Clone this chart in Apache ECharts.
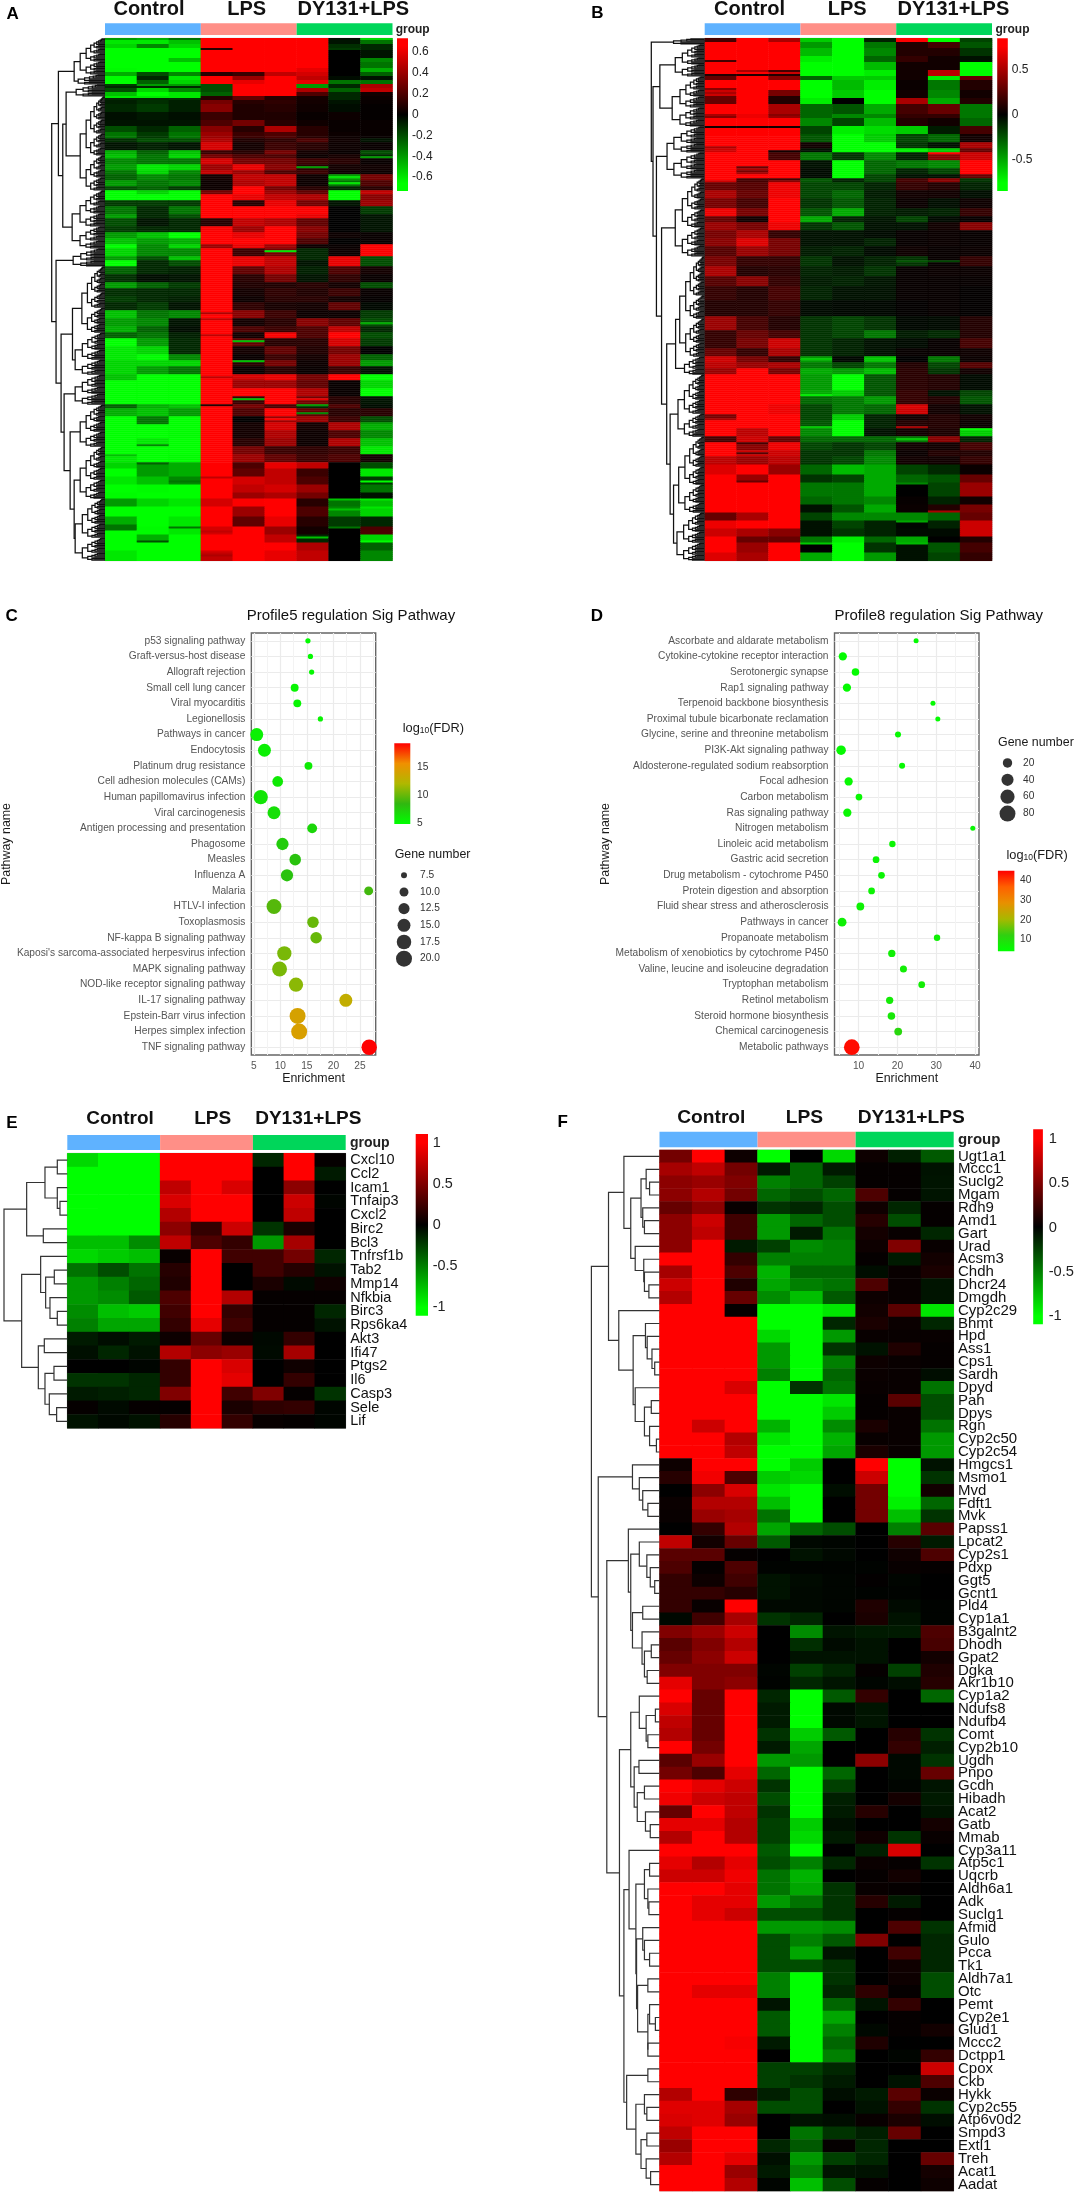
<!DOCTYPE html>
<html><head><meta charset="utf-8">
<script src="https://cdn.jsdelivr.net/npm/echarts@6/dist/echarts.min.js"></script>
<style>html,body{margin:0;padding:0;background:#fff}#c{width:1077px;height:2193px}</style></head>
<body><div id="c"></div>
<script>
const FONT='"Liberation Sans",Arial,sans-serif';
const groups=['Control','LPS','DY131+LPS'];
const groupColors=['#5fb2ff','#ff8f87','#00d65a'];
const samples=['C1','C2','C3','L1','L2','L3','D1','D2','D3'];

// Panel A: [rows in band, then 9 sample values]
const panelABands=[
[1,-.4,-.45,-.3,.73,.73,.73,.7,-.03,-.55],[2,-.6,-.6,-.5,.73,.73,.73,.7,-.05,-.3],[2,-.55,-.35,-.55,.73,.73,.73,.7,-.12,-.1],
[1,-.73,-.73,-.73,.1,.73,.73,.7,-.15,-.1],[4,-.73,-.73,-.73,.73,.73,.73,.7,0,-.05],[2,-.73,-.73,-.5,.73,.73,.73,.7,0,-.35],
[3,-.73,-.73,-.73,.73,.73,.73,.7,0,-.3],[2,-.65,-.73,-.73,.73,.73,.73,.6,0,-.45],[2,-.45,-.2,-.35,.1,.15,.5,.55,0,-.25],
[2,-.7,-.1,-.6,.72,.4,.7,.5,-.03,-.05],[2,-.7,-.25,-.55,.72,.6,.72,.6,-.3,-.3],
[2,-.15,-.4,-.4,-.2,.73,.73,-.4,-.1,.45],[2,-.2,-.55,-.35,-.2,.73,.73,.45,-.25,.5],[2,-.5,-.7,-.6,-.25,.73,.73,.2,-.1,.05],
[2,-.1,-.1,-.12,.1,.25,.1,.05,-.1,.03],[2,-.08,-.12,-.08,.3,.1,.12,.05,-.05,.02],[4,-.1,-.15,-.08,.35,.08,.1,.04,-.03,.01],
[4,-.04,-.06,-.04,.15,.08,.08,.02,.03,.01],[3,-.05,-.05,-.05,.2,.3,.1,.04,.02,.02],[3,-.2,-.1,-.25,.35,.1,.45,.1,.02,.02],
[3,-.3,-.15,-.3,.4,.15,.2,.1,.03,.02],[2,-.12,-.2,-.2,.45,.08,.12,.2,.04,-.05],[4,-.05,-.08,-.05,.55,.05,.15,.1,.03,.02],
[2,-.45,-.25,-.5,.15,.1,.3,.05,.02,-.2],[2,-.5,-.3,-.55,.3,.2,.2,.03,.06,-.1],[3,-.35,-.3,-.3,.55,.3,.3,.15,.1,.02],
[3,-.4,-.6,-.55,.4,.6,.35,.1,.05,.04],[2,-.3,-.55,-.35,.5,.4,.2,.15,.03,.03],[3,-.25,-.35,-.3,.05,.5,.5,.03,-.4,.3],
[3,-.4,-.3,-.35,.03,.45,.5,.03,-.3,.2],[2,-.2,-.25,-.15,.03,.7,.3,.1,-.1,.1],
[2,-.7,-.55,-.65,.3,.73,.4,.25,-.7,.5],[3,-.73,-.73,-.73,.7,.6,.5,.45,-.7,.35],[3,-.15,-.15,-.15,.73,.1,.6,.3,-.05,.4],
[4,-.3,-.1,-.3,.73,.7,.7,.65,0,-.15],[2,-.4,-.1,-.2,.73,.73,.73,.6,0,-.05],[4,-.2,-.05,-.1,.1,.5,.45,.25,0,-.05],
[3,-.15,-.1,-.1,.65,.4,.73,.35,0,-.05],[3,-.4,-.5,-.7,.73,.6,.73,.3,.03,.02],[3,-.5,-.4,-.45,.7,.73,.73,.2,0,.02],
[2,-.65,-.35,-.55,.4,.6,.4,.03,.02,.65],[4,-.55,-.35,-.35,.73,.15,.3,-.1,.03,.65],[2,-.4,-.2,-.5,.73,.6,.5,-.1,.6,-.2],
[3,-.7,-.1,-.2,.73,.6,.5,-.05,.6,-.2],[4,-.25,-.1,-.08,.73,.25,.45,-.08,.2,.05],[4,-.12,-.03,-.05,.73,.1,.3,-.05,.12,.02],
[3,-.4,-.25,-.15,.73,.08,.08,.1,.05,-.2],[4,-.12,-.1,-.1,.73,.05,.12,.08,.15,.02],[3,-.15,-.1,-.08,.73,.03,.1,.1,.05,.01],
[4,-.1,-.15,-.05,.73,.12,.06,.05,.25,-.02],[4,-.5,-.3,-.35,.73,.35,.15,.03,.03,-.15],[4,-.4,-.35,-.05,.73,.05,.1,.35,.25,-.2],
[3,-.45,-.25,-.03,.73,.2,.15,.2,.5,-.1],[3,-.25,-.3,-.08,.73,.05,.6,.2,.7,-.2],[4,-.73,-.4,-.1,.73,.25,.1,.1,.55,-.15],
[4,-.6,-.55,-.1,.73,.05,.25,.08,.3,0],[3,-.6,-.65,-.35,.73,.02,.15,.05,.4,-.25],[3,-.55,-.55,-.55,.73,.1,.3,.03,.4,-.4],
[4,-.55,-.4,-.3,.73,.02,.1,.02,.15,-.05],[3,-.5,-.73,-.73,.65,.55,.6,.3,.7,-.73],[4,-.73,-.73,-.73,.73,.4,.4,.25,.02,-.55],
[4,-.73,-.73,-.73,.73,.7,.73,.45,.02,-.7],[4,-.73,-.73,-.7,.73,.15,.73,.3,.1,-.05],[2,-.25,-.45,-.5,.73,.3,.2,-.1,.2,-.03],
[4,-.45,-.5,-.4,.73,.2,.65,.25,.1,.1],[3,-.73,-.3,-.7,.73,0,.4,.4,.15,-.2],[4,-.73,-.7,-.7,.73,.05,.55,.05,.45,-.45],
[4,-.73,-.73,-.65,.73,.05,.45,.03,.2,-.35],[4,-.73,-.6,-.73,.73,.1,.4,.03,.45,-.5],[4,-.73,-.73,-.73,.73,.3,.15,.12,.15,-.6],
[4,-.6,-.7,-.65,.73,.4,.25,.15,.2,.05],[3,-.55,-.25,-.45,.73,.2,.6,.5,0,-.2],[4,-.7,-.6,-.45,.73,.25,.5,.15,0,-.6],
[4,-.6,-.5,-.35,.7,.55,.5,.2,0,-.15],[4,-.7,-.65,-.73,.73,.5,.55,.4,0,-.3],[3,-.65,-.7,-.73,.73,.4,.45,.3,0,-.05],
[4,-.4,-.55,-.6,.55,.65,.73,.1,-.3,-.5],[5,-.7,-.73,-.73,.73,.4,.73,.2,-.35,-.55],[5,-.45,-.73,-.6,.73,.25,.6,.1,-.15,-.1],
[4,-.7,-.65,-.6,.55,.73,.4,.05,0,.2],[4,-.73,-.45,-.73,.73,.73,.5,-.1,0,-.55],[4,-.7,-.73,-.73,.7,.73,.73,.45,0,-.25],
[5,-.6,-.73,-.73,.55,.73,.6,.5,0,-.35]];
// thin streaks read over the bands: [row, sample index, value]
const panelAStreaks=[[24,0,-.1],[24,1,-.1],[24,2,-.1],[29,0,-.6],[29,1,-.6],[29,2,-.6],[106,5,-.6],[78,3,.7],[69,7,-.6],[72,7,-.6],[59,8,-.4],[64,6,-.4],
[137,3,.45],[140,3,.5],[148,3,.5],[142,8,-.45],[148,5,.75],[148,7,.7],[151,4,-.5],[161,4,-.5],[169,3,.5],[170,4,.5],[170,5,.6],[180,4,-.5],[180,6,.6],[183,3,.1],[183,6,-.4],
[187,6,-.35],[190,5,.7],[192,1,-.3],[192,8,-.4],[203,1,-.35],[208,0,-.5],[213,1,-.4],[214,1,-.4],[215,1,-.4],[216,1,-.4],[217,1,-.4],[218,1,-.4],[219,3,.5],[221,8,-.7],[221,2,-.3],
[230,8,-.6],[230,7,-.5],[235,7,-.5],[234,8,-.6],[243,0,-.3],[244,0,-.3],[245,0,-.3],[244,2,-.3],[244,7,-.3],[249,6,-.5],[251,1,-.2],[251,8,-.73],[246,3,.5],[257,3,.5],[258,3,.45],[259,3,.5],[260,3,.5]];

// Panel B
const panelBBands=[
[2,.2,.8,.5,-.6,-.8,-.1,.75,-.9,-.2],[3,.8,.8,.8,-.45,-.85,-.35,.1,.2,-.25],[4,.8,.8,.8,-.55,-.85,-.4,.1,.1,-.15],
[3,.8,.8,.8,-.7,-.85,-.3,.15,.05,-.05],[4,.8,.8,.8,-.85,-.85,-.55,.05,.05,-.8],[3,.8,.75,.6,-.85,-.85,-.7,.05,.55,-.8],
[2,.3,.8,.4,-.3,-.6,-.6,.05,-.7,.3],[5,.75,.8,.8,-.8,-.55,-.7,.03,-.35,.1],[4,.6,.8,.35,-.75,-.6,-.8,.05,-.4,.05],
[3,.3,.8,.1,-.7,0,-.85,.5,-.5,.1],[5,.8,.8,.5,-.3,-.25,-.5,.2,.3,-.35],[2,.4,.7,.45,-.3,-.4,-.4,.15,.15,-.35],
[4,.8,.8,.8,-.4,-.2,-.55,.1,.05,-.3],[4,.8,.8,.75,-.2,-.7,-.65,-.6,-.08,.2],[4,.8,.8,.75,-.25,-.75,-.6,-.2,-.3,.05],
[3,.8,.8,.8,.05,-.85,-.75,-.15,-.05,.5],[2,.6,.8,.75,-.05,-.8,-.8,-.7,-.6,.3],[4,.8,.8,.2,-.35,-.15,-.4,-.1,.4,.6],
[4,.8,.8,.8,-.05,-.8,-.3,-.35,-.4,.8],[3,.8,.5,.8,-.03,-.85,-.3,-.1,-.2,.75],[2,.8,.8,.8,-.03,-.85,-.2,-.05,-.05,.3],
[2,.6,.2,.4,-.25,-.1,-.2,.2,.4,-.15],[4,.3,.25,.7,-.2,-.2,-.1,.15,.1,-.1],[4,.5,.3,.7,-.2,-.3,-.08,.05,.05,-.04],
[5,.35,.2,.75,-.15,-.25,-.1,.03,-.04,.04],[4,.7,.35,.8,-.25,-.5,-.1,-.08,-.1,.15],[3,.3,.05,.75,-.5,-.1,-.06,-.2,-.03,.02],
[4,.45,.35,.7,-.15,-.25,-.05,-.05,.05,.4],[4,.35,.5,.15,-.05,-.05,-.03,.02,.03,.02],[4,.4,.65,.35,-.05,-.05,-.1,.02,.03,.02],
[5,.25,.45,.35,-.08,-.1,-.03,.04,.02,.03],[5,.35,.15,.15,-.15,-.05,-.1,-.15,.02,.15],[5,.5,.1,.12,-.1,-.08,-.15,.02,.03,.03],
[5,.25,.4,.15,-.08,-.1,-.06,.02,.02,.02],[7,.15,.1,.2,-.1,-.05,-.05,.02,.02,.01],[8,.1,.1,.15,-.03,-.02,-.02,.01,.02,.01],
[7,.45,.2,.1,-.15,-.2,-.15,-.02,-.03,.1],[4,.15,.3,.2,-.15,-.2,-.35,-.08,-.12,.1],[5,.15,.35,.6,-.15,-.1,-.05,-.03,.02,.2],
[4,.3,.15,.5,-.15,-.1,-.05,.02,.02,.04],[3,.6,.35,.15,-.45,-.02,-.55,0,-.35,.03],[3,.55,.45,.5,-.35,-.2,-.35,.1,-.2,.25],
[3,.45,.8,.35,-.5,-.45,-.55,.12,-.15,.05],[8,.8,.8,.8,-.45,-.85,-.25,.12,.1,-.03],[3,.8,.8,.75,-.5,-.6,-.25,.15,-.05,-.2],
[4,.8,.8,.75,-.3,-.35,-.45,.15,.1,-.25],[5,.8,.75,.7,-.2,-.35,-.3,.6,.05,-.05],[3,.5,.8,.8,-.2,-.6,-.1,.05,.1,.05],
[4,.8,.8,.8,-.25,-.85,-.1,.1,.1,.03],[4,.8,.55,.75,-.4,-.9,-.05,.05,.08,-.6],[3,.2,.6,.3,-.3,-.3,-.3,-.35,.4,-.1],
[4,.8,.4,.7,-.2,-.15,-.2,.05,.05,.2],[3,.75,.6,.6,-.15,-.15,-.35,.03,.1,.1],[4,.55,.45,.55,-.15,-.2,-.4,.05,.05,.15],
[5,.65,.75,.45,-.3,-.55,-.5,-.2,-.12,.03],[4,.8,.45,.75,-.15,-.2,-.5,-.3,-.25,.3],[7,.8,.8,.8,-.35,-.35,-.5,0,-.2,.45],
[4,.8,.8,.8,-.3,-.35,-.4,.02,-.1,.05],[4,.75,.75,.75,-.05,-.25,-.5,.03,.1,.35],[4,.3,.5,.75,-.2,-.4,-.4,-.4,-.3,.3],
[4,.7,.75,.8,-.05,-.2,-.1,-.02,-.1,.6],[4,.6,.5,.4,-.05,-.15,-.1,-.03,-.03,.6],[3,.75,.3,.3,-.35,-.7,-.3,-.5,0,.1],
[5,.8,.45,.8,0,-.9,-.15,-.05,-.25,.2],[4,.65,.5,.8,-.5,-.85,-.45,-.05,-.2,.15]];
const panelBStreaks=[[18,0,.1],[18,1,.1],[18,2,.1],[11,0,.2],[16,2,.2],[16,1,.5],[25,0,.4],[27,0,.5],[29,0,.3],[29,2,.1],[30,4,0],[38,0,.5],[38,2,.4],[44,0,.05],[44,1,.05],[44,2,.05],
[54,0,.5],[56,2,.05],[57,7,.8],[64,1,.3],[66,1,.35],[70,0,.8],[70,1,.2],[70,2,.2],[111,6,-.25],[111,7,-.2],[160,3,-.6],[160,5,-.6],[178,3,-.7],[184,6,.65],[188,0,.35],[189,0,.35],
[194,3,-.6],[194,6,.5],[195,8,-.8],[199,0,.2],[202,1,.2],[200,6,-.6],[207,1,.25],[221,1,.3],[222,6,-.4],[241,6,-.5],[236,7,.5],[252,3,-.6],[252,6,-.55]];

// Panel E
const panelEGenes=['Cxcl10','Ccl2','Icam1','Tnfaip3','Cxcl2','Birc2','Bcl3','Tnfrsf1b','Tab2','Mmp14','Nfkbia','Birc3','Rps6ka4','Akt3','Ifi47','Ptgs2','Il6','Casp3','Sele','Lif'];
const panelEValues=[
[-.85,-1,-1,1,1,1,-.15,1,.02],[-1,-1,-1,1,1,1,0,1,-.1],[-1,-1,-1,.75,1,.85,0,.55,0],[-1,-1,-1,.85,1,1,0,.8,-.02],
[-1,-1,-1,.7,1,1,0,.75,0],[-1,-1,-1,.55,.2,.8,-.2,.1,0],[-.75,-.75,-.55,.75,.3,.2,-.6,.65,0],[-.85,-.8,-.75,.03,1,.25,.25,.45,-.15],
[-.45,-.3,-.45,.15,1,0,.25,.15,-.07],[-.6,-.5,-.4,.12,1,0,.1,-.04,.06],[-.6,-.55,-.35,.3,1,.7,.02,.02,.02],[-.55,-.75,-.8,.25,1,.2,.02,.02,-.15],
[-.5,-.65,-.65,.2,.9,.25,.02,.02,-.07],[-.1,-.05,-.1,.05,.4,.05,-.03,.2,0],[-.06,-.15,-.07,.7,.55,.6,-.04,.65,0],[0,0,-.02,.2,1,.85,0,.06,0],
[-.2,-.2,-.15,.2,1,.9,0,.2,0],[-.1,-.12,-.15,.5,1,.25,.5,.02,-.2],[.02,-.04,.02,.02,1,.1,.18,.2,-.02],[-.07,-.03,-.07,.15,1,.2,.03,.02,-.02]];

// Panel F
const panelFGenes=['Ugt1a1','Mccc1','Suclg2','Mgam','Rdh9','Amd1','Gart','Urad','Acsm3','Chdh','Dhcr24','Dmgdh','Cyp2c29','Bhmt','Hpd','Ass1','Cps1','Sardh','Dpyd','Pah','Dpys','Rgn','Cyp2c50','Cyp2c54','Hmgcs1','Msmo1','Mvd','Fdft1','Mvk','Papss1','Lpcat2','Cyp2s1','Pdxp','Ggt5','Gcnt1','Pld4','Cyp1a1','B3galnt2','Dhodh','Gpat2','Dgka','Akr1b10','Cyp1a2','Ndufs8','Ndufb4','Comt','Cyp2b10','Ugdh','Pnpo','Gcdh','Hibadh','Acat2','Gatb','Mmab','Cyp3a11','Atp5c1','Uqcrb','Aldh6a1','Adk','Suclg1','Afmid','Gulo','Pcca','Tk1','Aldh7a1','Otc','Pemt','Cyp2e1','Glud1','Mccc2','Dctpp1','Cpox','Ckb','Hykk','Cyp2c55','Atp6v0d2','Smpd3','Extl1','Treh','Acat1','Aadat'];
const panelFValues=[
[.45,1,.05,-1,0,-.85,.05,-.12,-.35],[.65,.75,.45,-.1,-.4,-.1,.02,.02,-.07],[.55,.6,.5,-.5,-.4,-.25,.02,.02,-.08],[.55,.7,.45,-.4,-.3,-.4,.3,.02,-.08],
[.4,.55,.03,-.2,-.15,-.3,.06,-.15,.02],[.55,.8,.25,-.6,-.4,-.3,.15,-.3,.02],[.55,.75,.25,-.6,-.1,-.45,.08,.03,-.15],[.55,1,-.1,-.25,-.55,-.5,.05,.5,.03],
[1,1,.2,-.5,-.5,-.5,.02,-.1,.07],[.65,1,.3,-.7,-.4,-.4,-.05,.03,.1],[.8,1,.12,-.65,-.5,-.45,.3,.03,-.08],[.7,1,.4,-.55,-.75,-.35,.05,.03,-.08],
[1,1,.02,-1,-1,-.9,.07,.35,-.9],[1,1,1,-1,-1,-.15,.1,.04,-.15],[1,1,1,-.85,-1,-.6,.03,.03,.03],[1,1,1,-.6,-1,-.2,-.07,.12,.02],
[1,1,1,-.6,-1,-.5,.05,.03,.02],[1,1,1,-.5,-1,-.4,.04,.03,-.05],[1,1,.85,-1,-.2,-.45,.03,.03,-.45],[1,1,1,-1,-1,-.9,.02,.35,-.3],
[1,1,1,-1,-1,-.8,.02,.03,-.3],[1,.8,1,-.7,-1,-.55,.1,.03,-.45],[1,1,.7,-.9,-1,-.7,.03,.03,-.6],[1,1,.75,-1,-1,-.65,.1,.03,-.6],
[.05,1,1,-1,-.8,0,1,-1,-.07],[.15,.95,.3,-.8,-.85,0,.8,-1,-.2],[0,.55,.85,-.9,-1,-.05,.45,-1,.07],[.04,.7,.7,-.75,-1,0,.45,-.95,-.4],
[.03,.6,.65,-.45,-1,0,.45,-.75,-.2],[0,.2,.7,-.65,-.4,-.3,0,-.5,.35],[.75,.07,.4,-.35,-.03,-.02,0,.15,-.1],[.35,.35,.02,0,-.07,-.03,0,.06,.3],
[.3,.02,.3,-.01,-.01,-.01,-.01,.03,.02],[.2,.05,.25,-.07,-.04,-.02,.01,-.02,0],[.2,.2,.15,-.07,-.03,-.02,-.01,-.01,0],[.2,.03,1,-.03,-.03,-.02,.12,-.04,-.01],
[-.03,.25,.65,-.2,-.15,0,.1,-.07,-.01],[.5,.6,.8,0,-.55,-.08,-.1,-.1,.3],[.35,.5,.7,0,-.18,-.04,-.07,0,.28],[.4,.55,.8,0,-.07,-.07,-.07,0,.07],
[.5,.5,.5,-.02,-.25,-.15,.02,-.25,.12],[.9,.5,.55,-.01,-.15,-.08,-.02,-.05,.15],[1,.4,1,-.15,-1,-.35,.2,0,-.4],[.85,.4,1,-.1,-1,-.03,-.08,0,0],
[.75,.4,1,-.1,-1,-.03,-.08,0,0],[.7,.4,1,-.2,-.8,-.35,0,.15,-.2],[1,.45,1,-.1,-.65,0,0,.2,-.12],[.35,.6,1,-.6,-.6,0,.55,-.03,-.2],
[.45,.3,.9,-.4,-1,-.4,0,-.03,.4],[1,.9,.8,-.2,-1,-.25,0,-.02,-.08],[.95,.8,.75,-.3,-1,-.12,0,.08,-.1],[.4,1,.75,-.2,-1,-.1,.15,0,-.08],
[.9,.9,.7,-.25,-.8,-.06,0,0,.08],[.7,1,.7,-.25,-.85,-.1,.06,-.2,.03],[1,1,1,-.35,-1,0,-.12,.85,0],[.9,.7,.9,-.3,-.5,-.15,.04,.02,-.2],
[.8,.8,.95,-.45,-.7,0,.02,.07,0],[1,1,.9,-.45,-.65,-.2,.03,.02,0],[1,.9,.9,-.6,-.45,-.2,.15,-.1,0],[1,.9,.8,-.3,-.3,-.2,0,.02,0],
[1,1,1,-.6,-.6,-.55,0,.3,-.2],[1,1,1,-.3,-.5,-.35,.5,0,-.15],[1,1,1,-.3,-.65,-.08,0,.25,-.15],[1,1,1,-.3,-.3,-.2,0,.06,-.15],
[1,1,1,-.5,-1,-.2,0,.05,-.3],[1,.9,.9,-.5,-1,-.15,.18,.02,-.3],[1,1,1,-.08,-1,-.4,-.08,.2,0],[1,1,1,-.35,-1,-.65,0,.02,0],
[1,1,1,-.35,-1,-.5,-.03,.02,.07],[1,1,.97,-.1,-1,-.4,.12,0,0],[1,1,1,0,-1,-.5,0,-.02,.2],[1,1,1,-.25,-.25,-.15,0,0,.8],
[1,1,1,-.25,-.2,-.1,0,-.07,.3],[.7,1,.18,-.12,-.3,-.05,-.1,.35,.04],[.88,.88,.65,-.3,-.3,0,-.07,.2,-.2],[.85,.88,.6,0,-.07,-.05,.03,.1,-.05],
[.75,1,1,0,-.45,-.2,-.12,.4,0],[.6,1,1,-.15,-.35,.02,-.15,0,0],[.7,1,.9,-.06,-.6,-.25,-.15,0,.4],[1,1,.6,-.1,-.5,-.08,-.07,0,.08],[1,1,.7,-.02,-.75,-.3,.02,0,.05]];

// Dendrograms: [height, child, child]; 0 = one leaf; [height, n] = tight cluster of n heatmap rows
const treeA=[159,[139,[92,[74,18],[80,5]],[126,[116,[86,6],[74,47]],[98,29]]],[146,[95,9],[131,[97,[69,33],[89,21]],[122,[89,15],[104,[74,21],[92,[74,26],[89,31]]]]]]];
const treeB=[156,[91,3],[151,[131,[86,16],[95,25]],[141,[110,[90,13],[90,13]],[126,[86,39],[111,[85,[73,50],[59,9]],[101,[78,31],[91,[76,38],[81,24]]]]]]]];
const treeE=[190,[122,[67,[30,0,0],[30,0,[22,0,0]]],[72,0,0]],[137,[80,0,[65,[39,0,0],[52,0,[30,0,0]]]],[87,[69,0,0],[67,[40,0,0],[54,0,[32,0,0]]]]]];
const treeF=[199,
 [149,[104,0,[84,[54,[39,0,[29,0,0]],[49,0,[44,0,0]]],[71,0,[46,0,[44,0,[31,0,0]]]]]],
      [119,0,[77,[41,0,[36,0,[22,0,[14,0,0]]]],[71,0,[44,[24,0,0],[29,0,[9,0,0]]]]]]],
 [179,[79,0,[59,0,[49,0,[34,0,0]]]],
  [154,[91,0,[84,[59,0,[37,0,[27,0,[14,0,0]]]],[79,[49,0,0],[51,0,[44,[24,0,0],[36,0,0]]]]]],
   [117,[84,[59,0,[39,[12,0,0],[34,0,0]]],[74,[60,0,0],[65,[44,0,0],[41,0,[27,0,0]]]]],
    [104,[89,0,[69,[44,[29,0,0],[34,0,[31,0,0]]],[67,[49,0,[44,0,[29,0,0]]],[64,[34,0,0],[34,[29,0,[12,0,0]],[34,0,0]]]]]],
         [96,[34,0,0],[69,[44,0,[37,0,0]],[54,[37,0,0],[39,0,[26,0,0]]]]]]]]]];

// Panel C
const pathwaysC=['p53 signaling pathway','Graft-versus-host disease','Allograft rejection','Small cell lung cancer','Viral myocarditis','Legionellosis','Pathways in cancer','Endocytosis','Platinum drug resistance','Cell adhesion molecules (CAMs)','Human papillomavirus infection','Viral carcinogenesis','Antigen processing and presentation','Phagosome','Measles','Influenza A','Malaria','HTLV-I infection','Toxoplasmosis','NF-kappa B signaling pathway',"Kaposi's sarcoma-associated herpesvirus infection",'MAPK signaling pathway','NOD-like receptor signaling pathway','IL-17 signaling pathway','Epstein-Barr virus infection','Herpes simplex infection','TNF signaling pathway'];
const enrichC=[15.2,15.67,15.9,12.7,13.2,17.55,5.55,7,15.3,9.5,6.3,8.8,16,10.4,12.8,11.25,26.65,8.8,16.15,16.75,10.75,9.85,12.95,22.35,13.25,13.55,26.75];
const genesC=[7,7,7,9,9,7,15,15,9,12,17,15,11,14,13,14,10,18,13,13,17,18,17,15,20,20,19];
const fdrC=[5.2,5.3,5.4,5.5,5.5,5.6,5.7,5.8,6,6.1,6.3,6.6,7,7.5,8,8,9,9.5,10,10,10.5,10.5,11,13,14,14.2,19];
const geneTicksC=[7.5,10,12.5,15,17.5,20];
const fdrTicksC=[5,10,15];

// Panel D
const pathwaysD=['Ascorbate and aldarate metabolism','Cytokine-cytokine receptor interaction','Serotonergic synapse','Rap1 signaling pathway','Terpenoid backbone biosynthesis','Proximal tubule bicarbonate reclamation','Glycine, serine and threonine metabolism','PI3K-Akt signaling pathway','Aldosterone-regulated sodium reabsorption','Focal adhesion','Carbon metabolism','Ras signaling pathway','Nitrogen metabolism','Linoleic acid metabolism','Gastric acid secretion','Drug metabolism - cytochrome P450','Protein digestion and absorption','Fluid shear stress and atherosclerosis','Pathways in cancer','Propanoate metabolism','Metabolism of xenobiotics by cytochrome P450','Valine, leucine and isoleucine degradation','Tryptophan metabolism','Retinol metabolism','Steroid hormone biosynthesis','Chemical carcinogenesis','Metabolic pathways'];
const enrichD=[24.8,5.94,9.2,7,29.15,30.4,20.15,5.5,21.2,7.44,10.1,7.1,39.4,18.7,14.5,15.9,13.35,10.45,5.75,30.2,18.55,21.55,26.25,18,18.45,20.2,8.25];
const genesD=[4,14,11,14,4,4,6,21,6,14,8,14,4,7,8,8,8,12,17,7,10,9,8,10,11,12,77];
const fdrD=[4.5,4.6,4.7,4.8,4.8,4.9,5,5,5.2,5.3,5.4,5.5,5.6,5.7,5.8,5.9,6,6.2,6.4,6.6,6.8,7,7.2,7.5,8,11,44];
const geneTicksD=[20,40,60,80];
const fdrTicksD=[10,20,30,40];

const rampC=['#00ff00','#30b810','#b0b800','#f09000','#ff0000'];
const rampD=['#00ff00','#30d010','#a8b800','#e89000','#ff6000','#ff0000'];

function expandBands(bands,streaks){
  const rows=[];bands.forEach(b=>{for(let i=0;i<b[0];i++)rows.push(b.slice(1));});
  (streaks||[]).forEach(s=>{if(rows[s[0]])rows[s[0]][s[1]]=s[2];});
  return rows;
}

const grid=[],xAxis=[],yAxis=[],series=[],visualMap=[],graphic=[],title=[];
function addGrid(l,t,w,h,extra){grid.push(Object.assign({left:l,top:t,width:w,height:h,containLabel:false,show:false},extra||{}));return grid.length-1;}
function hiddenAxis(gi,o){return Object.assign({gridIndex:gi,show:false},o);}
function text(s,x,y,o){graphic.push({type:'text',silent:true,style:Object.assign({x,y,text:s,fontFamily:FONT,fill:'#111',textVerticalAlign:'middle',verticalAlign:'middle'},o||{})});}

function barRect(gi,lo,hi,stops){
  series.push({type:'custom',silent:true,xAxisIndex:xAxis.length-1,yAxisIndex:yAxis.length-1,clip:false,data:[[0,lo,1,hi]],
    renderItem(p,api){const a=api.coord([api.value(0),api.value(1)]),b=api.coord([api.value(2),api.value(3)]);
      return {type:'rect',shape:{x:a[0],y:b[1],width:b[0]-a[0],height:a[1]-b[1]},style:{fill:new echarts.graphic.LinearGradient(0,1,0,0,stops)}};}});
}
function colorBar(r,lo,hi,ticks,stops,font,color,inner){
  const gi=addGrid(r.x0,r.y0,r.x1-r.x0,r.y1-r.y0);
  xAxis.push(hiddenAxis(gi,{type:'value',min:0,max:1}));
  yAxis.push({gridIndex:gi,type:'value',position:'right',min:lo,max:hi,splitLine:{show:false},axisLine:{show:false},
    axisTick:{show:!!inner,inside:true,length:3,lineStyle:{color:'#fff'},customValues:ticks},
    axisLabel:{customValues:ticks,margin:r.margin,fontSize:font,color:color,fontFamily:FONT}});
  barRect(gi,lo,hi,stops);
}
function flattenTree(tree){
  const segs=[];let next=0;
  function cluster(d,lo,hi){ // tight fan of leaves spaced half a row, filling rows lo..hi
    if(hi-lo<=.5)return {y:(lo+hi)/2,d:0};
    const n=Math.round((hi-lo)*2),a=n>2?Math.ceil(n*.62)/2:.5;
    const A=cluster(d*.76,lo,lo+a),B=cluster(d*.76,lo+a,hi);
    segs.push([d,A.y,A.d,B.y,B.d]);return {y:(A.y+B.y)/2,d};
  }
  function walk(n){
    if(n===0){next++;return {y:next-.5,d:0};}
    if(n.length===2){const lo=next;next+=n[1];return cluster(n[0],lo,next);}
    const A=walk(n[1]),B=walk(n[2]);segs.push([n[0],A.y,A.d,B.y,B.d]);return {y:(A.y+B.y)/2,d:n[0]};
  }
  walk(tree);return {segs,rows:next};
}
function heatPanel(c){
  const w=c.x1-c.x0,h=c.y1-c.y0,nRows=c.rows.length;
  // annotation bar
  let gi=addGrid(c.x0,c.annY0,w,c.annY1-c.annY0);
  xAxis.push(hiddenAxis(gi,{type:'category',data:groups}));yAxis.push(hiddenAxis(gi,{type:'value',min:0,max:1}));
  series.push({type:'bar',silent:true,xAxisIndex:xAxis.length-1,yAxisIndex:yAxis.length-1,barWidth:'100%',
    data:groups.map((g,i)=>({value:1,itemStyle:{color:groupColors[i]}}))});
  // heatmap
  gi=addGrid(c.x0,c.y0,w,h,{show:true,borderColor:'#c4c4c4',borderWidth:1,backgroundColor:'transparent'});
  xAxis.push(hiddenAxis(gi,{type:'category',data:samples}));
  const yCats=c.names||c.rows.map((r,i)=>String(i));
  yAxis.push(c.names?{gridIndex:gi,type:'category',inverse:true,position:'right',data:yCats,axisLine:{show:false},axisTick:{show:false},splitLine:{show:false},
      axisLabel:{interval:0,margin:c.nameMargin,fontSize:c.nameFont,color:'#111',fontFamily:FONT}}
    :hiddenAxis(gi,{type:'category',inverse:true,data:yCats}));
  const data=[];c.rows.forEach((r,i)=>r.forEach((v,j)=>data.push([j,i,v])));
  visualMap.push({type:'continuous',show:false,seriesIndex:series.length,dimension:2,min:-c.sat,max:c.sat,inRange:{color:['#00ff00','#000000','#ff0000']}});
  series.push({type:'heatmap',silent:true,progressive:0,xAxisIndex:xAxis.length-1,yAxisIndex:yAxis.length-1,data});
  // dendrogram
  gi=addGrid(c.treeLeft,c.y0,c.x0-c.treeLeft,h);
  xAxis.push(hiddenAxis(gi,{type:'value',inverse:true,min:0,max:c.dMax}));
  yAxis.push(hiddenAxis(gi,{type:'value',inverse:true,min:0,max:nRows}));
  const t=flattenTree(c.tree);
  series.push({type:'custom',silent:true,clip:false,xAxisIndex:xAxis.length-1,yAxisIndex:yAxis.length-1,data:t.segs,
    renderItem(p,api){const v=i=>api.value(i),P=(x,y)=>api.coord([x,y]);
      return {type:'polyline',shape:{points:[P(v(2),v(1)),P(v(0),v(1)),P(v(0),v(3)),P(v(4),v(3))]},style:{stroke:c.treeColor,lineWidth:c.treeWidth,fill:null}};}});
  // colour bar
  const lo=Math.max(0,(-c.sat-c.barMin)/(c.barMax-c.barMin)),hi=Math.min(1,(c.sat-c.barMin)/(c.barMax-c.barMin));
  colorBar(c.bar,c.barMin,c.barMax,c.barTicks,[{offset:0,color:'#00ff00'},{offset:lo,color:'#00ff00'},{offset:.5,color:'#000'},{offset:hi,color:'#ff0000'},{offset:1,color:'#ff0000'}],c.barFont,'#222');
  // group captions
  c.caps.forEach((x,i)=>text(groups[i],x,c.capY,{fontSize:c.capFont,fontWeight:'bold',textAlign:'center',align:'center'}));
  text('group',c.grp[0],c.grp[1],{fontSize:c.grp[2],fontWeight:'bold',fill:'#222'});
}
function bubblePanel(c){
  const gi=addGrid(c.x0,c.y0,c.x1-c.x0,c.y1-c.y0,{show:true,borderColor:'#666',borderWidth:1.4,backgroundColor:'#fff'});
  const lab={fontSize:10.2,color:'#555',fontFamily:FONT};
  const nm={fontSize:12.4,color:'#1a1a1a',fontFamily:FONT};
  xAxis.push({gridIndex:gi,type:'value',min:c.xMin,max:c.xMax,axisLine:{show:false},
    axisTick:{length:3,lineStyle:{color:'#444'},customValues:c.xTicks},axisLabel:Object.assign({margin:6,customValues:c.xTicks},lab),
    splitLine:{show:true,lineStyle:{color:'#ebebeb',width:1.2}},name:'Enrichment',nameLocation:'middle',nameGap:18,nameTextStyle:nm});
  const xIdx=xAxis.length-1;
  xAxis.push({gridIndex:gi,type:'value',min:c.xMin,max:c.xMax,axisLine:{show:false},axisTick:{show:false,customValues:c.xMinor},axisLabel:{show:false},
    splitLine:{show:true,lineStyle:{color:'#f3f3f3',width:1}}});
  yAxis.push({gridIndex:gi,type:'category',inverse:true,data:c.names,axisLine:{show:false},
    axisTick:{length:3,alignWithLabel:true,lineStyle:{color:'#444'}},axisLabel:Object.assign({interval:0,margin:6},lab),
    splitLine:{show:true,alignWithLabel:true,lineStyle:{color:'#ebebeb',width:1.2}},name:'Pathway name',nameLocation:'middle',nameGap:c.nameGap,nameTextStyle:nm});
  const yIdx=yAxis.length-1;
  const data=c.names.map((n,i)=>[c.enrich[i],i,c.genes[i],c.fdr[i]]);
  visualMap.push({type:'continuous',show:false,seriesIndex:series.length,dimension:3,min:c.fdrMin,max:c.fdrMax,inRange:{color:c.ramp}});
  series.push({type:'scatter',silent:true,xAxisIndex:xIdx,yAxisIndex:yIdx,data,symbol:'circle',itemStyle:{opacity:1},symbolSize:v=>c.size(v[2]),z:5});
  // colour legend
  const stops=c.ramp.map((col,i)=>({offset:i/(c.ramp.length-1),color:col}));
  colorBar(c.cbar,c.cbarMin,c.cbarMax,c.fdrTicks,stops,10.2,'#333',c.cbarTicks);
  // size legend
  const g2=addGrid(c.sl.x,c.sl.y,c.sl.w,c.sl.h);
  xAxis.push(hiddenAxis(g2,{type:'value',min:-1,max:1}));
  yAxis.push({gridIndex:g2,type:'category',inverse:true,position:'right',data:c.geneTicks.map(c.geneFmt),axisLine:{show:false},axisTick:{show:false},splitLine:{show:false},
    axisLabel:{interval:0,margin:c.sl.margin,fontSize:10.2,color:'#333',fontFamily:FONT}});
  series.push({type:'scatter',silent:true,xAxisIndex:xAxis.length-1,yAxisIndex:yAxis.length-1,symbol:'circle',itemStyle:{color:'#000'},
    data:c.geneTicks.map((g,i)=>[0,i,g]),symbolSize:v=>c.size(v[2])});
  text('Gene number',c.geneTitle[0],c.geneTitle[1],{fontSize:12.4,fill:'#1a1a1a'});
  graphic.push({type:'text',silent:true,style:{x:c.fdrTitle[0],y:c.fdrTitle[1],text:'log{s|10}(FDR)',fontFamily:FONT,fontSize:12.8,fill:'#1a1a1a',verticalAlign:'middle',
    rich:{s:{fontSize:8.5,fontFamily:FONT,fill:'#1a1a1a',padding:[6,0,0,0]}}}});
  title.push({text:c.title,left:c.x0,top:608.5,padding:0,textStyle:{fontSize:15,fontWeight:'normal',color:'#111',fontFamily:FONT}});
}

const sA={x0:105,x1:392.5,y0:38.3,y1:560.7,annY0:23.3,annY1:35,rows:expandBands(panelABands,panelAStreaks),sat:.66,tree:treeA,treeLeft:51.7,dMax:159,treeColor:'#111',treeWidth:1.25,
  bar:{x0:397,x1:408,y0:38.3,y1:191,margin:4},barMin:-.733,barMax:.733,barTicks:[-.6,-.4,-.2,0,.2,.4,.6],barFont:12,caps:[149,246.7,353.3],capY:9.5,capFont:20,grp:[395.7,30,12]};
const sB={x0:704.7,x1:992,y0:38.3,y1:560.7,annY0:23.3,annY1:35,rows:expandBands(panelBBands,panelBStreaks),sat:.75,tree:treeB,treeLeft:651.3,dMax:156,treeColor:'#111',treeWidth:1.25,
  bar:{x0:997.2,x1:1007.8,y0:38.3,y1:191,margin:4},barMin:-.84,barMax:.84,barTicks:[-.5,0,.5],barFont:12,caps:[749.6,847.2,953.4],capY:9.5,capFont:20,grp:[995.5,30,12]};
heatPanel(sA);heatPanel(sB);
heatPanel({x0:67.3,x1:345.7,y0:1153.3,y1:1428.3,annY0:1135,annY1:1150,rows:panelEValues,names:panelEGenes,nameFont:14.5,nameMargin:4.5,sat:1,tree:treeE,treeLeft:4,dMax:190,treeColor:'#333',treeWidth:1.2,
  bar:{x0:415.7,x1:428,y0:1134,y1:1315.7,margin:4.7},barMin:-1.1,barMax:1.11,barTicks:[-1,-.5,0,.5,1],barFont:14.4,caps:[120,212.7,308.3],capY:1118.3,capFont:19,grp:[350,1143.3,14]});
heatPanel({x0:659.5,x1:953.7,y0:1150,y1:2191,annY0:1131.7,annY1:1147.3,rows:panelFValues,names:panelFGenes,nameFont:15,nameMargin:4.3,sat:1,tree:treeF,treeLeft:591.4,dMax:199,treeColor:'#333',treeWidth:1.2,
  bar:{x0:1033.2,x1:1046.2,y0:1129.3,y1:1324.3,margin:5.8},barMin:-1.09,barMax:1.105,barTicks:[-1,-.5,0,.5,1],barFont:14.7,caps:[711.3,804.4,911.3],capY:1118,capFont:19.2,grp:[957.9,1140,15]});

bubblePanel({title:'Profile5 regulation Sig Pathway',x0:246.7,x1:375.7,y0:633,y1:1055,xMin:4.53,xMax:27.98,xTicks:[5,10,15,20,25],xMinor:[7.5,12.5,17.5,22.5,27.5],
  names:pathwaysC,enrich:enrichC,genes:genesC,fdr:fdrC,fdrMin:5,fdrMax:19,ramp:rampC,nameGap:232,size:g=>Math.sqrt(Math.max(4,36+17.6*(g-7.5))),
  cbar:{x0:394.3,x1:410.3,y0:743.3,y1:824,margin:6.7},cbarMin:4.84,cbarMax:19.2,fdrTicks:fdrTicksC,cbarTicks:false,geneTicks:geneTicksC,geneFmt:g=>g.toFixed(1),
  sl:{x:396,y:867,w:16,h:100,margin:8},geneTitle:[394.7,855],fdrTitle:[402.7,728]});
bubblePanel({title:'Profile8 regulation Sig Pathway',x0:834.5,x1:979,y0:633,y1:1055,xMin:3.8,xMax:41,xTicks:[10,20,30,40],xMinor:[5,15,25,35],
  names:pathwaysD,enrich:enrichD,genes:genesD,fdr:fdrD,fdrMin:4,fdrMax:45,ramp:rampD,nameGap:214,size:g=>3.6+12.7*Math.sqrt(Math.max(0,g-3)/82),
  cbar:{x0:997.9,x1:1014.4,y0:870.7,y1:951.3,margin:5.6},cbarMin:4.1,cbarMax:44.7,fdrTicks:fdrTicksD,cbarTicks:true,geneTicks:geneTicksD,geneFmt:g=>String(g),
  sl:{x:999.5,y:754.5,w:16,h:67.5,margin:7.5},geneTitle:[998,742.7],fdrTitle:[1006.5,855]});

[['A',12.7,14],['B',597.5,13.3],['C',11.7,616.7],['D',597,616.7],['E',12,1123],['F',562.6,1122.7]].forEach(p=>text(p[0],p[1],p[2],{fontSize:17,fontWeight:'bold',fill:'#000',textAlign:'center',align:'center'}));

const chart=echarts.init(document.getElementById('c'),null,{renderer:'canvas',width:1077,height:2193});
chart.setOption({animation:false,backgroundColor:'#fff',tooltip:{show:false},title,grid,xAxis,yAxis,series,visualMap,graphic});
</script></body></html>
